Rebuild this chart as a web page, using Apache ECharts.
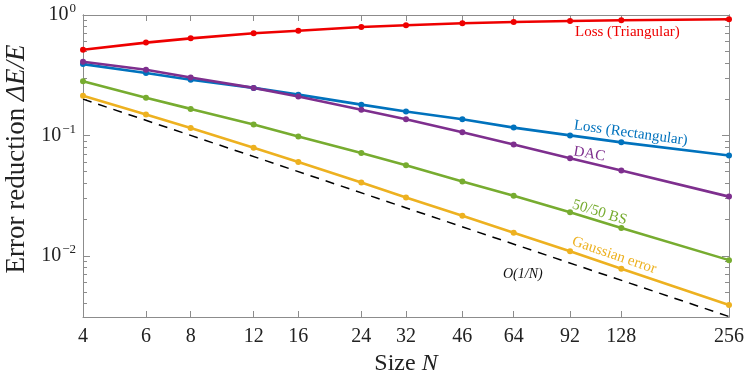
<!DOCTYPE html>
<html>
<head>
<meta charset="utf-8">
<script src="https://cdn.jsdelivr.net/npm/echarts@6/dist/echarts.min.js"></script>
<style>
  html, body { margin: 0; padding: 0; background: #fff; }
  #chart { width: 747px; height: 375px; }
</style>
</head>
<body>
<div id="chart"></div>
<script>
// data
var sizes = [4, 6, 8, 12, 16, 24, 32, 46, 64, 92, 128, 256];
var lossTri = [0.514, 0.59, 0.64, 0.706, 0.74, 0.796, 0.822, 0.853, 0.875, 0.892, 0.904, 0.921];
var lossRect = [0.391, 0.33, 0.29, 0.248, 0.218, 0.18, 0.158, 0.136, 0.116, 0.1, 0.0875, 0.068];
var dac = [0.409, 0.351, 0.303, 0.248, 0.21, 0.163, 0.136, 0.106, 0.084, 0.0645, 0.051, 0.031];
var bs5050 = [0.281, 0.205, 0.166, 0.123, 0.098, 0.0714, 0.0565, 0.0414, 0.0315, 0.023, 0.017, 0.0092];
var gaussErr = [0.213, 0.149, 0.115, 0.079, 0.06, 0.0406, 0.0305, 0.0215, 0.0155, 0.0109, 0.0078, 0.0039];
var refSizes = [4, 256];
var refOneOverN = [0.2, 0.003125];

var yMajor = [0.01, 0.1, 1];
var yMinor = [0.004, 0.005, 0.006, 0.007, 0.008, 0.009,
              0.02, 0.03, 0.04, 0.05, 0.06, 0.07, 0.08, 0.09,
              0.2, 0.3, 0.4, 0.5, 0.6, 0.7, 0.8, 0.9];

var serif = 'Liberation Serif';
var axisGray = '#8c8c8c';

function pairs(xs, ys) {
  return xs.map(function (x, i) { return [x, ys[i]]; });
}

function yAx(pos, ticks, len, withLabels) {
  return {
    type: 'log', gridIndex: 0, position: pos,
    min: 0.0031, max: 1,
    axisLine: { show: true, lineStyle: { color: axisGray, width: 1 } },
    axisTick: { show: true, inside: true, length: len, customValues: ticks,
                lineStyle: { color: axisGray } },
    axisLabel: withLabels ? {
      show: true, customValues: yMajor, margin: 7,
      formatter: function (v) {
        var e = Math.round(Math.log10(v));
        return '{b|10}{s|' + String(e).replace('-', '\u2212') + '}';
      },
      rich: {
        b: { fontFamily: serif, fontSize: 20, color: '#222' },
        s: { fontFamily: serif, fontSize: 13, color: '#222', padding: [0, 0, 12, 1] }
      }
    } : { show: false },
    splitLine: { show: false }
  };
}

function xAx(pos, withLabels) {
  return {
    type: 'log', logBase: 2, gridIndex: 0, position: pos,
    min: 4, max: 256,
    axisLine: { show: true, lineStyle: { color: axisGray, width: 1 } },
    axisTick: { show: true, inside: true, length: 6, customValues: sizes,
                lineStyle: { color: axisGray } },
    axisLabel: withLabels ? {
      show: true, customValues: sizes, margin: 10,
      fontFamily: serif, fontSize: 20, color: '#222'
    } : { show: false },
    splitLine: { show: false }
  };
}

function line(name, ys, color) {
  return {
    name: name, type: 'line', xAxisIndex: 0, yAxisIndex: 0,
    data: pairs(sizes, ys),
    symbol: 'circle', symbolSize: 6, showSymbol: true,
    lineStyle: { color: color, width: 2.6 },
    itemStyle: { color: color },
    animation: false, silent: true
  };
}

var chart = echarts.init(document.getElementById('chart'));
chart.setOption({
  backgroundColor: '#fff',
  animation: false,
  grid: { left: 83, right: 17, top: 15, bottom: 58, containLabel: false },
  xAxis: [xAx('bottom', true), xAx('top', false)],
  yAxis: [
    yAx('left', yMajor, 7, true),
    yAx('left', yMinor, 4, false),
    yAx('right', yMajor, 7, false),
    yAx('right', yMinor, 4, false)
  ],
  series: [
    {
      name: 'O(1/N)', type: 'line', xAxisIndex: 0, yAxisIndex: 0,
      data: pairs(refSizes, refOneOverN), symbol: 'none',
      lineStyle: { color: '#000', width: 1.5, type: [9, 7] },
      animation: false, silent: true
    },
    line('Loss (Triangular)', lossTri, '#ee0000'),
    line('Loss (Rectangular)', lossRect, '#0072bd'),
    line('DAC', dac, '#7e2f8e'),
    line('50/50 BS', bs5050, '#77ac30'),
    line('Gaussian error', gaussErr, '#edb120')
  ],
  graphic: [
    { type: 'text', x: 575, y: 25, style: { text: 'Loss (Triangular)', fill: '#ee0000', font: '15px "Liberation Serif"' } },
    { type: 'text', x: 575, y: 118, rotation: -0.135, style: { text: 'Loss (Rectangular)', fill: '#0072bd', font: '15px "Liberation Serif"' } },
    { type: 'text', x: 575, y: 144, rotation: -0.17, style: { text: 'DAC', fill: '#7e2f8e', font: '15px "Liberation Serif"' } },
    { type: 'text', x: 575, y: 197, rotation: -0.3, style: { text: '50/50 BS', fill: '#77ac30', font: '15px "Liberation Serif"' } },
    { type: 'text', x: 575, y: 234, rotation: -0.33, style: { text: 'Gaussian error', fill: '#edb120', font: '15px "Liberation Serif"' } },
    { type: 'text', x: 503, y: 267, style: { text: 'O(1/N)', fill: '#111', font: 'italic 14px "Liberation Serif"' } },
    { type: 'text', x: 406, y: 364, style: {
        text: 'Size {i|N}', fill: '#222', font: '24px "Liberation Serif"', align: 'center', verticalAlign: 'middle',
        rich: { i: { fontFamily: serif, fontStyle: 'italic', fontSize: 24, fill: '#222' } } } },
    { type: 'text', x: 17, y: 159, rotation: Math.PI / 2, style: {
        text: 'Error reduction {i|\u0394E/E}', fill: '#222', font: '27px "Liberation Serif"', align: 'center', verticalAlign: 'middle',
        rich: { i: { fontFamily: serif, fontStyle: 'italic', fontSize: 27, fill: '#222' } } } }
  ]
});
</script>
</body>
</html>
